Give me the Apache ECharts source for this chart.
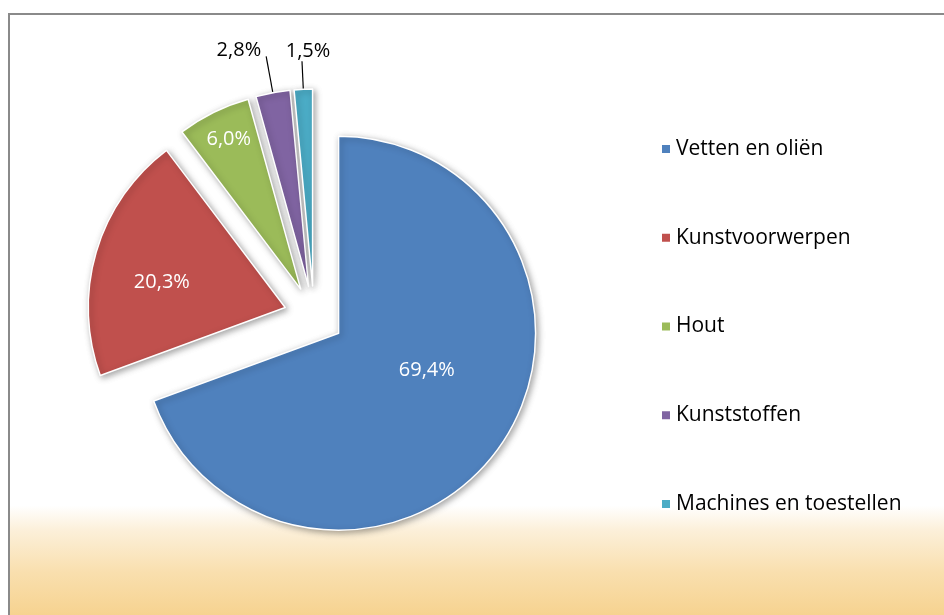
<!DOCTYPE html>
<html>
<head>
<meta charset="utf-8">
<script src="https://cdn.jsdelivr.net/npm/echarts@6/dist/echarts.min.js"></script>
<style>
html,body{margin:0;padding:0;background:#fff;}
#chart{width:944px;height:615px;}
</style>
</head>
<body>
<div id="chart"></div>
<script>
// ---- data ----
var categories = ['Vetten en oliën', 'Kunstvoorwerpen', 'Hout', 'Kunststoffen', 'Machines en toestellen'];
var shares = [69.4, 20.3, 6.0, 2.8, 1.5];

// ---- styles ----
var colors = ['#4F81BD', '#C0504D', '#9BBB59', '#8064A2', '#4BACC6'];
var insideLabel = [true, true, true, false, false];
var labelShift = [[5, -21], [-26, 3], [-27, -59], [0, 4], [7, 0]];
var outerAlign = [null, null, null, 'right', 'center'];
var lineLen = [0, 0, 0, 37, 28];
var FONT = '"Open Sans", sans-serif';

function fmt(v) { return v.toFixed(1).replace('.', ',') + '%'; }

var pieData = categories.map(function (name, i) {
  var item = {
    name: name,
    value: shares[i],
    selected: true,
    itemStyle: { color: colors[i] }
  };
  if (insideLabel[i]) {
    item.label = { position: 'inside', color: '#ffffff' };
    item.labelLine = { show: false };
  } else {
    item.label = { position: 'outside', color: '#000000', distanceToLabelLine: i === 3 ? 5 : 1 };
    item.labelLine = { show: true, length: lineLen[i], length2: 0, lineStyle: { color: '#000', width: 1.2 } };
  }
  return item;
});

var chart = echarts.init(document.getElementById('chart'), null, { renderer: 'canvas' });
chart.setOption({
  animation: false,
  backgroundColor: '#ffffff',
  graphic: [
    {
      type: 'rect', z: -10, silent: true,
      shape: { x: 9, y: 14, width: 940, height: 606 },
      style: {
        fill: {
          type: 'linear', x: 0, y: 0, x2: 0, y2: 1,
          colorStops: [
            { offset: 0, color: '#ffffff' },
            { offset: 0.81, color: '#ffffff' },
            { offset: 0.85, color: '#fcf0da' },
            { offset: 0.92, color: '#f9dfae' },
            { offset: 1, color: '#f6d18c' }
          ]
        },
        stroke: '#8a8a8a', lineWidth: 2
      }
    }
  ],
  legend: {
    orient: 'vertical',
    left: 655,
    top: 133,
    itemWidth: 10,
    itemHeight: 10,
    itemGap: 66.75,
    icon: 'rect',
    data: categories,
    textStyle: { fontFamily: FONT, fontSize: 21, color: '#000', lineHeight: 22 },
    selectedMode: false
  },
  series: [{
    type: 'pie',
    center: [314, 316],
    radius: 197,
    startAngle: 90,
    clockwise: true,
    selectedMode: 'multiple',
    selectedOffset: 30,
    avoidLabelOverlap: false,
    itemStyle: {
      borderColor: '#ffffff',
      borderWidth: 1.5,
      shadowBlur: 6,
      shadowColor: 'rgba(0,0,0,0.35)',
      shadowOffsetX: 2,
      shadowOffsetY: 2
    },
    select: { itemStyle: { borderColor: '#ffffff', borderWidth: 1.5 } },
    emphasis: { disabled: true },
    label: {
      show: true,
      fontFamily: FONT,
      fontSize: 20,
      formatter: function (p) { return fmt(p.value); }
    },
    labelLayout: function (p) {
      var i = p.dataIndex;
      if (insideLabel[i]) {
        return { dx: labelShift[i][0], dy: labelShift[i][1] };
      }
      return { align: outerAlign[i], verticalAlign: 'bottom', dx: labelShift[i][0], dy: labelShift[i][1] };
    },
    data: pieData
  }]
});
</script>
</body>
</html>
